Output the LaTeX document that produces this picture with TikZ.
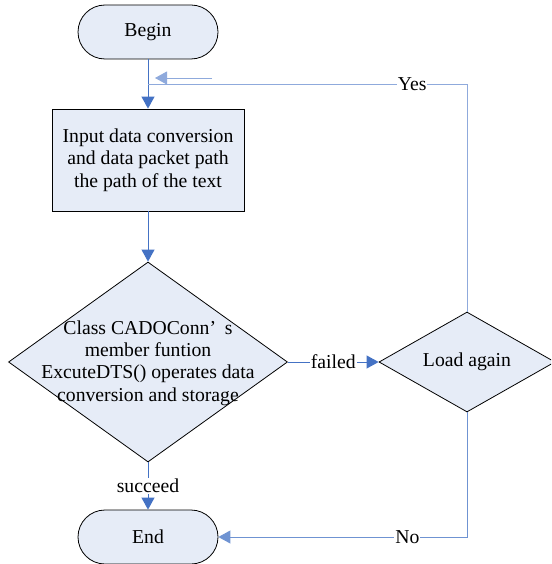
\documentclass[tikz,border=0pt]{standalone}
\usepackage{fontspec}
\setmainfont{Liberation Serif}
\usetikzlibrary{shapes.geometric,arrows.meta}
\definecolor{fillb}{HTML}{E6ECF7}
\definecolor{arrb}{HTML}{4472C4}
\definecolor{lightb}{HTML}{8FAADC}
\definecolor{midb}{HTML}{6F93D2}
\begin{document}
\begin{tikzpicture}[x=1pt,y=-1pt,
  every node/.style={font=\fontsize{19.7}{22.3}\selectfont},
  term/.style={draw=black,fill=fillb,rounded corners=27pt,minimum width=140pt,minimum height=54pt,line width=0.8pt},
  proc/.style={draw=black,fill=fillb,minimum width=192pt,minimum height=102pt,line width=0.8pt,align=center},
  dia/.style={draw=black,fill=fillb,diamond,inner sep=0pt,line width=0.8pt},
  arr/.style={draw=arrb,line width=0.9pt,-{Triangle[width=13pt,length=12pt]}},
  lab/.style={fill=white,inner sep=1pt}]
\clip (0,0) rectangle (551,564);
\node[term] (begin) at (148,32) {Begin};
\node[proc] (input) at (148,160) {Input data conversion\\and data packet path\\the path of the text};
\node[dia,minimum width=279pt,minimum height=200pt] (dec) at (148,362) {};
\node[align=center] (dectext) at (148,363) {Class CADOConn’\hspace{0.45em}s\\member funtion\\ExcuteDTS() operates data\\conversion and storage};
\node[dia,minimum width=176pt,minimum height=100pt] (load) at (467,362) {};
\node (loadtext) at (467,362) {Load again};
\node[term] (end) at (148,537) {End};
\coordinate (yj) at (148,84);
\coordinate (ya) at (212,78);
\coordinate (yb) at (155,78);
\draw[arr] (begin) -- (input);
\draw[arr] (input) -- (dec);
\draw[arr] (dec.east) -- node[lab] {failed} (load.west);
\draw[arr] (dec.south) -- node[lab] {succeed} (end.north);
\draw[draw=lightb,line width=0.9pt] (load.north) |- node[lab,pos=0.586] {Yes} (yj);
\draw[draw=lightb,line width=0.9pt,-{Triangle[width=13pt,length=12pt]}] (ya) -- (yb);
\draw[draw=midb,line width=0.9pt,-{Triangle[width=13pt,length=12pt]}] (load.south) |- node[lab,pos=0.62] {No} (end.east);
\end{tikzpicture}
\end{document}
